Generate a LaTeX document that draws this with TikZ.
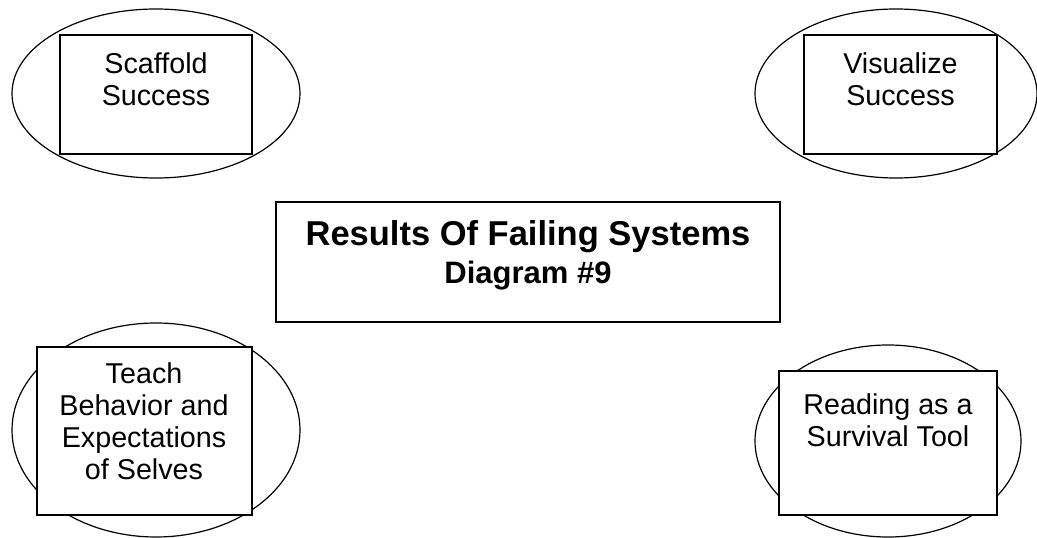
\documentclass[tikz,border=0pt]{standalone}
\usepackage{fontspec}
\setmainfont{Liberation Sans}
\usetikzlibrary{shapes.geometric}
\begin{document}
\begin{tikzpicture}[x=1pt,y=-1pt,
  oval/.style={draw, ellipse, line width=1.2pt, inner sep=0pt},
  box/.style={draw, rectangle, fill=white, line width=1.6pt, inner sep=0pt},
  lbl/.style={inner sep=0pt, anchor=north, align=center, font=\fontsize{28.7}{32}\selectfont},
  ttl/.style={inner sep=0pt, align=center}]
\useasboundingbox (0,0) rectangle (1037,538);
% top left
\node[oval, minimum width=288, minimum height=169] (e1) at (156,93.5) {};
\node[box, minimum width=192, minimum height=119] (r1) at (156,94.5) {};
\node[lbl] (t1) at (156,53) {Scaffold\\Success};
% top right
\node[oval, minimum width=282, minimum height=169] (e2) at (896,93.5) {};
\node[box, minimum width=193, minimum height=119] (r2) at (900.5,94.5) {};
\node[lbl] (t2) at (900.5,53) {Visualize\\Success};
% center
\node[box, minimum width=504, minimum height=120] (r0) at (528,262) {};
\node[ttl, font=\bfseries\fontsize{34.5}{32}\selectfont, anchor=base] (t0) at (528,245) {Results Of Failing Systems};
\node[ttl, font=\bfseries\fontsize{31}{32}\selectfont, anchor=base] (t0b) at (528,283) {Diagram \#9};
% bottom left
\node[oval, minimum width=288, minimum height=214] (e3) at (156,430) {};
\node[box, minimum width=215, minimum height=168] (r3) at (144.5,431) {};
\node[lbl] (t3) at (144,362) {Teach\\Behavior and\\Expectations\\of Selves};
% bottom right
\node[oval, minimum width=266, minimum height=192] (e4) at (888,441) {};
\node[box, minimum width=218, minimum height=144] (r4) at (888,443) {};
\node[lbl] (t4) at (888,393) {Reading as a\\Survival Tool};
\end{tikzpicture}
\end{document}
